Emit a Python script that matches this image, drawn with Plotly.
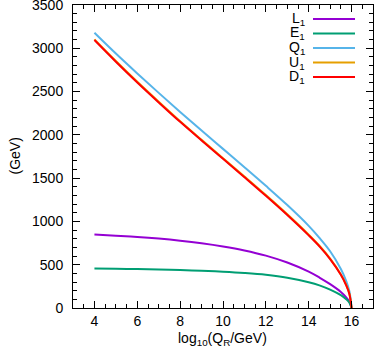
import plotly.graph_objects as go

x = [4, 5, 6, 7, 8, 9, 10, 11, 12, 13, 14, 14.5, 15, 15.5, 15.75, 15.9, 16]
L1 = [848, 836, 821, 802, 778, 748, 711, 665, 605, 525, 420, 352, 275, 185, 123, 72, 0]
E1 = [455, 453, 450, 445, 438, 430, 419, 404, 383, 350, 298, 262, 212, 148, 102, 62, 0]
Q1 = [3180, 2940, 2710, 2485, 2265, 2050, 1838, 1626, 1411, 1189, 949, 810, 655, 450, 310, 190, 0]
D1 = [3095, 2845, 2605, 2375, 2150, 1935, 1723, 1511, 1296, 1074, 839, 712, 565, 383, 262, 160, 0]
U1 = [3103, 2853, 2613, 2383, 2158, 1943, 1731, 1519, 1304, 1082, 847, 719, 571, 388, 266, 163, 0]

names = ["L<sub>1</sub>", "E<sub>1</sub>", "Q<sub>1</sub>", "U<sub>1</sub>", "D<sub>1</sub>"]
series = [L1, E1, Q1, U1, D1]
colors = ["#9400d3", "#009e73", "#56b4e9", "#e69f00", "#ff0000"]

xticks = [4, 6, 8, 10, 12, 14, 16]
yticks = [0, 500, 1000, 1500, 2000, 2500, 3000, 3500]

W, H = 374, 353
ml, mr, mt, mb = 73, 1, 5, 45
pw, ph = W - ml - mr, H - mt - mb

fig = go.Figure()
for n, s, c in zip(names, series, colors):
    fig.add_trace(go.Scatter(x=x, y=s, mode="lines", name=n,
                             line=dict(color=c, width=2, shape="spline", smoothing=1.0),
                             showlegend=False))

font = dict(family="Liberation Sans, Arial, sans-serif", size=14, color="black")

# legend drawn manually: labels right-aligned, samples to their right
for i, (n, c) in enumerate(zip(names, colors)):
    ypx = 19 + i * 14.5
    yp = 1 - (ypx - mt) / ph
    fig.add_annotation(x=(306 - ml) / pw, y=yp, xref="paper", yref="paper",
                       text=n, showarrow=False, xanchor="right", yanchor="middle",
                       font=font, borderpad=0)
    fig.add_shape(type="line", xref="paper", yref="paper",
                  x0=(313 - ml) / pw, x1=(355 - ml) / pw, y0=yp, y1=yp,
                  line=dict(color=c, width=2))

fig.add_annotation(x=(14 - ml) / pw, y=0.5, xref="paper", yref="paper",
                   text="(GeV)", showarrow=False, textangle=-90,
                   xanchor="center", yanchor="middle", font=font)
fig.add_annotation(x=(222 - ml) / pw, y=-(339 - mt - ph) / ph, xref="paper", yref="paper",
                   text="log<sub>10</sub>(Q<sub>R</sub>/GeV)", showarrow=False,
                   xanchor="center", yanchor="middle", font=font)

axis_common = dict(showgrid=False, zeroline=False, showline=True, linecolor="black",
                   linewidth=1, mirror="allticks", ticks="inside", ticklen=7,
                   tickcolor="black", tickwidth=1, tickfont=font, automargin=False,
                   ticklabeloverflow="allow")

fig.update_xaxes(range=[3, 17], tickvals=xticks, ticktext=[str(v) for v in xticks],
                 minor=dict(dtick=0.5, ticks="inside", ticklen=4, tickcolor="black"),
                 **axis_common)
fig.update_yaxes(range=[0, 3500], tickvals=yticks, ticktext=[str(v) for v in yticks],
                 minor=dict(dtick=100, ticks="inside", ticklen=4, tickcolor="black"),
                 ticklabelstandoff=6, **axis_common)

fig.update_layout(width=W, height=H, margin=dict(l=ml, r=mr, t=mt, b=mb),
                  paper_bgcolor="white", plot_bgcolor="white", font=font)

fig.write_html("out.html", config={"displayModeBar": False},
               post_script="document.body.style.margin='0';document.body.style.overflow='hidden';")
